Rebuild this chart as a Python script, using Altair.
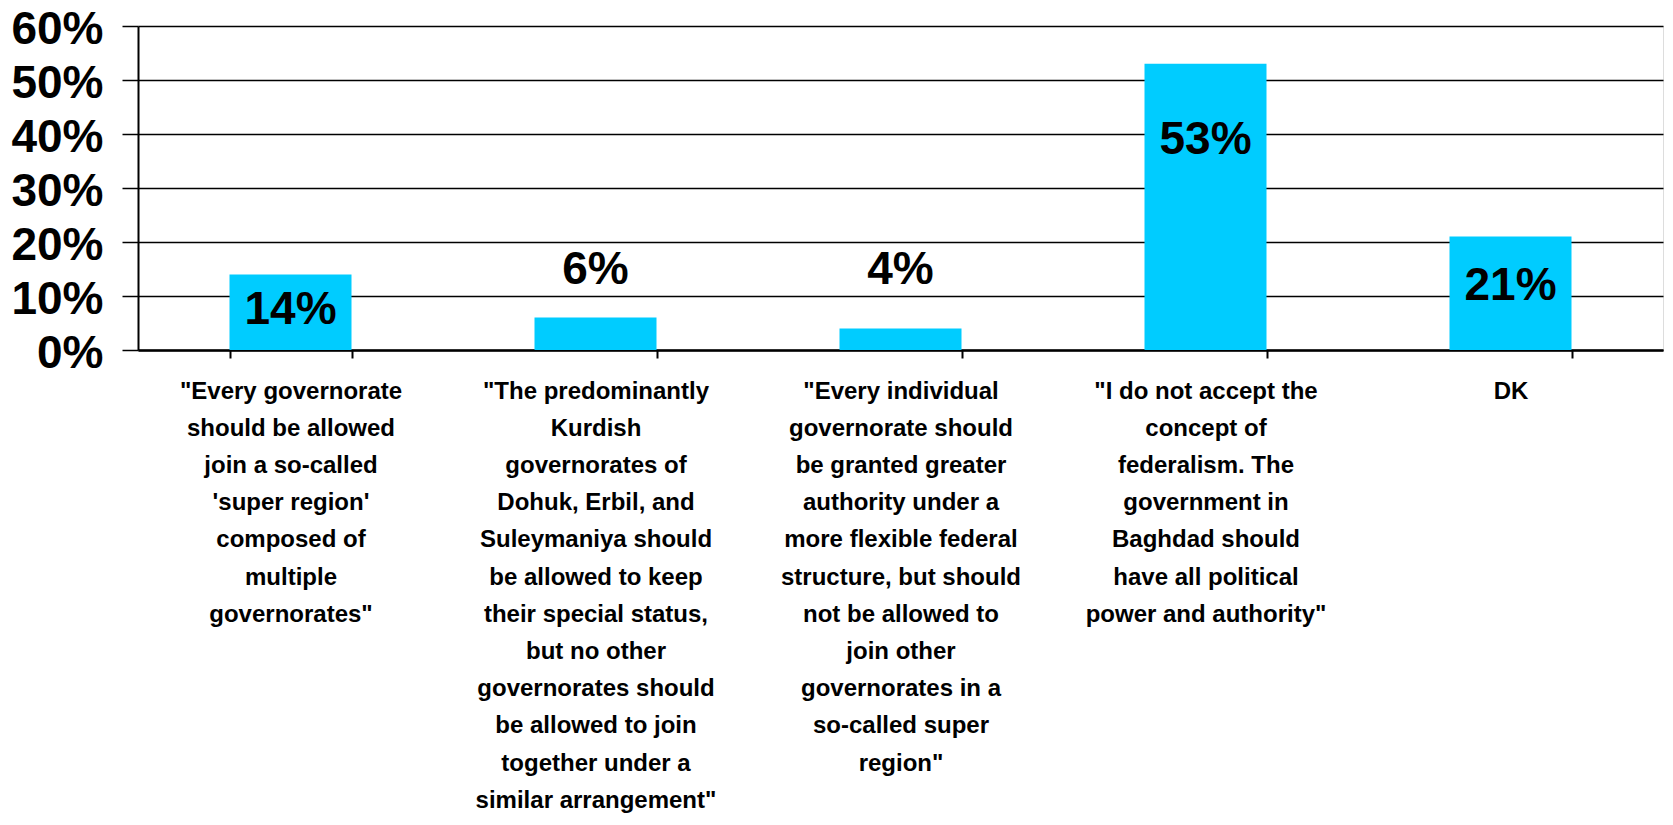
import altair as alt
import pandas as pd

category_lines = [
    ['"Every governorate', 'should be allowed', 'join a so-called', "'super region'", 'composed of', 'multiple', 'governorates"'],
    ['"The predominantly', 'Kurdish', 'governorates of', 'Dohuk, Erbil, and', 'Suleymaniya should', 'be allowed to keep', 'their special status,', 'but no other', 'governorates should', 'be allowed to join', 'together under a', 'similar arrangement"'],
    ['"Every individual', 'governorate should', 'be granted greater', 'authority under a', 'more flexible federal', 'structure, but should', 'not be allowed to', 'join other', 'governorates in a', 'so-called super', 'region"'],
    ['"I do not accept the', 'concept of', 'federalism.  The', 'government in', 'Baghdad should', 'have all political', 'power and authority"'],
    ['DK'],
]
values = [0.14, 0.06, 0.04, 0.53, 0.21]
label_at = [0.08, 0.154, 0.154, 0.394, 0.124]
y_ticks = [0, 0.1, 0.2, 0.3, 0.4, 0.5, 0.6]

categories = ["\n".join(lines) for lines in category_lines]
df = pd.DataFrame({"category": categories, "value": values, "label_at": label_at})

FONT = "Liberation Sans"

x = alt.X(
    "category:N",
    sort=None,
    title=None,
    scale=alt.Scale(paddingInner=0.6, paddingOuter=0.3),
    axis=alt.Axis(
        labelExpr="split(datum.label, '\\n')",
        labelAngle=0,
        labelFont=FONT,
        labelFontSize=24,
        labelFontWeight="bold",
        labelColor="black",
        labelLineHeight=37.2,
        labelLimit=0,
        labelBaseline="top",
        labelPadding=21,
        tickBand="extent",
        tickSize=8,
        tickColor="black",
        tickWidth=2,
        domainColor="black",
        domainWidth=2.5,
        grid=False,
    ),
)

bars = alt.Chart(df).mark_bar(color="#00CCFF").encode(
    x=x,
    y=alt.Y(
        "value:Q",
        title=None,
        scale=alt.Scale(domain=[0, 0.6], nice=False),
        axis=alt.Axis(
            values=y_ticks,
            format=".0%",
            labelFont=FONT,
            labelFontSize=46,
            labelFontWeight="bold",
            labelColor="black",
            labelPadding=19,
            labelOffset=3,
            tickSize=16,
            tickColor="black",
            tickWidth=1.5,
            domainColor="black",
            domainWidth=2,
            grid=True,
            gridColor="black",
            gridWidth=1.5,
            gridOpacity=1,
        ),
    ),
)

labels = alt.Chart(df).mark_text(
    font=FONT, fontSize=46, fontWeight="bold", color="black", baseline="middle", align="center", dy=3
).encode(
    x=alt.X("category:N", sort=None),
    y=alt.Y("label_at:Q"),
    text=alt.Text("value:Q", format=".0%"),
)

chart = (
    alt.layer(bars, labels)
    .properties(
        width=1525,
        height=324,
        autosize=alt.AutoSizeParams(type="none"),
        padding={"left": 130, "top": 18, "right": 2, "bottom": 465},
    )
    .configure_view(stroke="black", strokeWidth=2)
    .configure(background="white")
)

chart.save("out.html", embed_options={"renderer": "svg", "actions": False})
